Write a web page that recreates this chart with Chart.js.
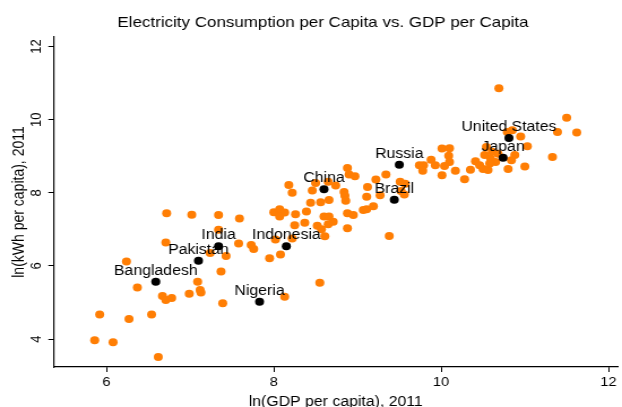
<!DOCTYPE html>
<html>
<head>
<meta charset="utf-8">
<script src="https://cdn.jsdelivr.net/npm/chart.js@4/dist/chart.umd.min.js"></script>
<style>
  html, body { margin: 0; padding: 0; background: #fff; overflow: hidden; }
  /* the plot is laid out on a narrower canvas and widened to the page */
  #frame { position: absolute; left: 0; top: 0; width: 550px; height: 407px;
           transform: scaleX(1.130909); transform-origin: 0 0; }
</style>
</head>
<body>
<div id="frame"><canvas id="chart" width="550" height="407"></canvas></div>
<script>
const chartTitle = 'Electricity Consumption per Capita vs. GDP per Capita';
const xAxisTitle = 'ln(GDP per capita), 2011';
const yAxisTitle = 'ln(kWh per capita), 2011';
const xTicks = [6, 8, 10, 12];
const yTicks = [4, 6, 8, 10, 12];

// ln(GDP per capita) and ln(kWh per capita) for unlabelled countries
const otherGdp = [
  5.86, 6.08, 5.92, 6.27, 6.54, 6.62, 6.37, 6.67, 6.71, 6.78,
  6.99, 7.09, 7.12, 7.13, 7.39, 7.37, 6.24, 6.71, 7.24, 7.43,
  7.34, 7.58, 7.73, 7.76, 7.95, 8.08, 8.02, 8.22, 8.13, 8.55,
  6.72, 7.02, 7.34, 7.59, 8.00, 8.07, 8.13, 8.07, 8.26, 8.39,
  8.44, 8.56, 8.25, 8.37, 8.52, 8.60, 8.66, 8.71, 8.65, 8.57,
  8.61, 8.18, 8.22, 8.50, 8.46, 8.65, 8.74, 8.66, 8.88, 8.90,
  8.97, 8.84, 8.85, 8.86, 8.88, 8.95, 8.88, 9.07, 9.11, 9.19,
  9.11, 9.27, 9.22, 9.34, 9.12, 9.38, 9.51, 9.57, 9.52, 9.56,
  9.74, 9.79, 9.78, 9.88, 9.93, 10.01, 10.10, 10.09, 10.10, 10.04,
  10.01, 10.17, 10.28, 10.35, 10.41, 10.46, 10.50, 10.56, 10.69, 10.80,
  10.84, 10.88, 11.00, 11.03, 11.33, 10.79, 10.85, 10.95, 11.39, 11.50,
  11.62, 10.54, 10.61, 10.52, 10.59, 10.68, 10.65, 10.58
];
const otherKwh = [
  3.97, 3.91, 4.67, 4.55, 4.67, 3.51, 5.41, 5.18, 5.07, 5.12,
  5.24, 5.57, 5.34, 5.27, 4.98, 5.85, 6.12, 6.64, 6.35, 6.27,
  6.99, 6.61, 6.57, 6.46, 6.21, 6.31, 6.72, 6.75, 5.16, 5.54,
  7.44, 7.40, 7.39, 7.30, 7.47, 7.55, 7.46, 7.35, 7.41, 7.49,
  7.73, 7.74, 7.11, 7.18, 7.10, 7.35, 7.35, 7.21, 7.14, 7.00,
  6.81, 8.21, 8.00, 8.27, 8.06, 8.30, 8.20, 7.80, 8.68, 8.50,
  8.45, 8.02, 7.92, 7.78, 7.44, 7.39, 7.03, 7.53, 7.55, 7.63,
  7.89, 7.93, 8.36, 8.50, 8.16, 6.82, 8.30, 8.25, 8.05, 7.95,
  8.75, 8.75, 8.60, 8.90, 8.75, 9.21, 9.22, 9.01, 8.84, 8.73,
  8.48, 8.60, 8.37, 8.63, 8.86, 8.75, 8.65, 8.62, 10.86, 8.65,
  8.89, 9.03, 8.72, 9.27, 8.98, 9.66, 9.71, 9.54, 9.66, 10.05,
  9.65, 9.25, 9.12, 9.03, 8.94, 9.07, 8.84, 8.80
];

// labelled countries
const namedCountries = ['Bangladesh', 'Pakistan', 'India', 'Indonesia', 'Nigeria',
                        'China', 'Brazil', 'Russia', 'United States', 'Japan'];
const namedGdp = [6.59, 7.10, 7.34, 8.15, 7.83, 8.60, 9.44, 9.50, 10.81, 10.74];
const namedKwh = [5.57, 6.14, 6.54, 6.54, 5.02, 8.10, 7.81, 8.77, 9.50, 8.96];

const FONT = '"Liberation Sans", Arial, Helvetica, sans-serif';

const toPoints = (xs, ys) => xs.map((x, i) => ({ x: x, y: ys[i] }));

// country names above their markers, and the chart heading
const annotate = {
  id: 'annotate',
  afterDatasetsDraw(chart) {
    const ctx = chart.ctx;
    const meta = chart.getDatasetMeta(0);
    ctx.save();
    ctx.fillStyle = '#000';
    ctx.textAlign = 'center';
    ctx.font = '14px ' + FONT;
    ctx.textBaseline = 'alphabetic';
    meta.data.forEach((pt, i) => {
      ctx.fillText(namedCountries[i], pt.x, pt.y - 7);
    });
    ctx.font = '15px ' + FONT;
    ctx.textBaseline = 'middle';
    ctx.fillText(chartTitle, chart.width / 2 + 10.6, 22.5);
    ctx.restore();
  }
};

new Chart(document.getElementById('chart'), {
  type: 'scatter',
  data: {
    datasets: [
      {
        label: 'Labelled countries',
        data: toPoints(namedGdp, namedKwh),
        backgroundColor: '#000',
        pointRadius: 4,
        borderWidth: 0,
        order: 0
      },
      {
        label: 'Other countries',
        data: toPoints(otherGdp, otherKwh),
        backgroundColor: 'rgb(255,126,4)',
        pointRadius: 4,
        borderWidth: 0,
        order: 1
      }
    ]
  },
  options: {
    responsive: false,
    animation: false,
    devicePixelRatio: 1,
    events: [],
    layout: { padding: { top: 37, right: 1.77, left: 0, bottom: 0 } },
    plugins: {
      legend: { display: false },
      tooltip: { enabled: false },
      title: { display: false }
    },
    scales: {
      x: {
        type: 'linear',
        position: 'bottom',
        min: 5.374,
        max: 12.107,
        afterBuildTicks: s => { s.ticks = xTicks.map(v => ({ value: v })); },
        afterFit: s => { s.height = 40; },
        grid: { display: true, drawOnChartArea: false, drawTicks: true, tickLength: 5, color: '#000', lineWidth: 1 },
        border: { display: true, color: '#000', width: 1.2 },
        ticks: { color: '#000', font: { family: FONT, size: 13 }, padding: 3, minRotation: 0, maxRotation: 0 },
        title: { display: true, text: xAxisTitle, color: '#000', font: { family: FONT, size: 14 }, padding: { top: 0, bottom: -3.5 } }
      },
      y: {
        type: 'linear',
        position: 'left',
        min: 3.236,
        max: 12.26,
        afterBuildTicks: s => { s.ticks = yTicks.map(v => ({ value: v })); },
        afterFit: s => { s.width = 47.75; },
        grid: { display: true, drawOnChartArea: false, drawTicks: true, tickLength: 5, color: '#000', lineWidth: 1 },
        border: { display: true, color: '#000', width: 1.2 },
        ticks: { color: '#000', font: { family: FONT, size: 13 }, padding: 3, minRotation: 90, maxRotation: 90, crossAlign: 'center' },
        title: { display: true, text: yAxisTitle, color: '#000', font: { family: FONT, size: 14 }, padding: { top: 8.4, bottom: 0 } }
      }
    }
  },
  plugins: [annotate]
});
</script>
</body>
</html>
